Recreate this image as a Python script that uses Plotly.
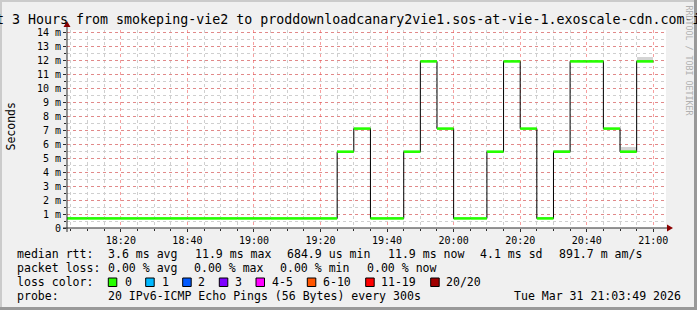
import plotly.graph_objects as go

# ---------------- data ----------------
DAY = "2026-03-31 "
slot_starts = ["18:00", "18:05", "18:10", "18:15", "18:20", "18:25", "18:30", "18:35",
               "18:40", "18:45", "18:50", "18:55", "19:00", "19:05", "19:10", "19:15",
               "19:20", "19:25", "19:30", "19:35", "19:40", "19:45", "19:50", "19:55",
               "20:00", "20:05", "20:10", "20:15", "20:20", "20:25", "20:30", "20:35",
               "20:40", "20:45", "20:50", "20:55"]
data_end = "21:00"
median_ms = [0.685, 0.685, 0.685, 0.685, 0.685, 0.685, 0.685, 0.685,
             0.685, 0.685, 0.685, 0.685, 0.685, 0.685, 0.685, 0.685,
             0.685, 5.45, 7.1, 0.685, 0.685, 5.45, 11.9, 7.1,
             0.685, 0.685, 5.45, 11.9, 7.1, 0.685, 5.45, 11.9,
             11.9, 7.1, 5.45, 11.9]
# smoke (spread of the pings) where visible
smoke_lo = [0.685, 0.685, 0.685, None, None, None, None, None,
            None, None, None, None, None, None, None, None,
            None, None, None, None, 0.685, None, None, None,
            None, None, None, None, None, 0.685, 5.45, None,
            None, None, 5.45, 11.9]
smoke_hi = [0.78, 0.78, 0.78, None, None, None, None, None,
            None, None, None, None, None, None, None, None,
            None, None, None, None, 0.78, None, None, None,
            None, None, None, None, None, 0.8, 5.6, None,
            None, None, 5.78, 12.18]

y_tick_vals = list(range(0, 15))
y_tick_text = ["0"] + [f"{v} m" for v in range(1, 15)]

title_text = ("Last 3 Hours from smokeping-vie2 to "
              "proddownloadcanary2vie1.sos-at-vie-1.exoscale-cdn.com-ipv6")
legend_rows = [
    ["median rtt:", "3.6 ms avg", "11.9 ms max", "684.9 us min", "11.9 ms now",
     "4.1 ms sd", "891.7 m am/s"],
    ["packet loss:", "0.00 % avg", "0.00 % max", "0.00 % min", "0.00 % now"],
    ["probe:", "20 IPv6-ICMP Echo Pings (56 Bytes) every 300s",
     "Tue Mar 31 21:03:49 2026"],
]
loss_labels = ["0", "1", "2", "3", "4-5", "6-10", "11-19", "20/20"]
loss_colors = ["#26ff00", "#00b8ff", "#0059ff", "#7e00ff", "#ff00ff",
               "#ff5500", "#ff0000", "#a00000"]

# ---------------- layout geometry ----------------
W, H = 697, 310
ML, MR, MT, MB = 67, 31, 30, 82
PW = W - ML - MR
PH = H - MT - MB
Y_TOP = PH / 14.0  # px per ms -> 14 px


def fx(px):
    return (px - ML) / PW


def fy(py):
    return (H - MB - py) / PH


MONO = "DejaVu Sans Mono"

x_all = [DAY + t for t in slot_starts]
fig = go.Figure()

# smoke
sx, sbase, sh = [], [], []
for t, lo, hi in zip(x_all, smoke_lo, smoke_hi):
    if lo is not None:
        sx.append(t)
        sbase.append(lo)
        sh.append(hi - lo)
fig.add_trace(go.Bar(x=sx, y=sh, base=sbase, width=300000, offset=0,
                     marker=dict(color="#d4d4d4", line=dict(width=0)),
                     hoverinfo="skip", showlegend=False))

# black step line
fig.add_trace(go.Scatter(x=x_all + [DAY + data_end], y=median_ms + [median_ms[-1]],
                         mode="lines", line=dict(color="#000000", width=1, shape="hv"),
                         hoverinfo="skip", showlegend=False))

# green median segments (loss color 0)
gx, gy = [], []
ends = x_all[1:] + [DAY + data_end]
for a, b, v in zip(x_all, ends, median_ms):
    gx += [a, b, None]
    gy += [v, v, None]
fig.add_trace(go.Scatter(x=gx, y=gy, mode="lines",
                         line=dict(color=loss_colors[0], width=2.6),
                         hoverinfo="skip", showlegend=False))

shapes = []
annotations = []

# axes lines with arrows
AX = "#2a2a2a"
AR = "#8b0000"
shapes.append(dict(type="line", xref="paper", yref="paper",
                   x0=fx(ML - 4), x1=fx(ML + PW + 2), y0=0, y1=0,
                   line=dict(color=AX, width=1)))
shapes.append(dict(type="line", xref="paper", yref="paper",
                   x0=0, x1=0, y0=fy(H - MB + 4), y1=fy(MT - 4),
                   line=dict(color=AX, width=1)))
# arrows
shapes.append(dict(type="path", xref="paper", yref="paper",
                   path=f"M {fx(ML+PW+1)},{fy(H-MB-3.5)} L {fx(ML+PW+7)},{fy(H-MB)} "
                        f"L {fx(ML+PW+1)},{fy(H-MB+3.5)} Z",
                   fillcolor=AR, line=dict(width=0)))
shapes.append(dict(type="path", xref="paper", yref="paper",
                   path=f"M {fx(ML-3.5)},{fy(MT-3)} L {fx(ML)},{fy(MT-9)} "
                        f"L {fx(ML+3.5)},{fy(MT-3)} Z",
                   fillcolor=AR, line=dict(width=0)))

# border (rrdtool shade)
shapes.append(dict(type="rect", xref="paper", yref="paper",
                   x0=fx(0), x1=fx(W), y0=fy(H - 3), y1=fy(H),
                   fillcolor="#999999", line=dict(width=0)))
shapes.append(dict(type="rect", xref="paper", yref="paper",
                   x0=fx(W - 3), x1=fx(W), y0=fy(H), y1=fy(0),
                   fillcolor="#999999", line=dict(width=0)))
shapes.append(dict(type="rect", xref="paper", yref="paper",
                   x0=fx(0), x1=fx(W - 3), y0=fy(2), y1=fy(0),
                   fillcolor="#cbcbcb", line=dict(width=0)))
shapes.append(dict(type="rect", xref="paper", yref="paper",
                   x0=fx(0), x1=fx(2), y0=fy(H - 3), y1=fy(0),
                   fillcolor="#cbcbcb", line=dict(width=0)))

# title
annotations.append(dict(xref="paper", yref="paper", x=fx(348.5), y=fy(19.5),
                        text=title_text, showarrow=False, xanchor="center",
                        yanchor="middle", borderpad=0,
                        font=dict(family=MONO, size=13.3, color="#000")))
# y axis title
annotations.append(dict(xref="paper", yref="paper", x=fx(10.5), y=fy(127),
                        text="Seconds", showarrow=False, textangle=-90,
                        xanchor="center", yanchor="middle", borderpad=0,
                        font=dict(family=MONO, size=11.5, color="#000")))
# rrdtool credit
annotations.append(dict(xref="paper", yref="paper", x=fx(688.5), y=fy(60),
                        text="RRDTOOL / TOBI OETIKER", showarrow=False, textangle=90,
                        xanchor="center", yanchor="middle", borderpad=0,
                        font=dict(family=MONO, size=8.3, color="#b0b0b0")))

LFS = 11.56
row_x = [
    [16, 107.3, 194, 286.3, 386.7, 479.3, 558.3],
    [16, 107.3, 193.3, 279.3, 366],
    [16, 107.3, 513.3],
]
row_y = [254, 268.2, 296]
for texts, xs, yv in zip(legend_rows, row_x, row_y):
    for t, xp in zip(texts, xs):
        annotations.append(dict(xref="paper", yref="paper", x=fx(xp), y=fy(yv),
                                text=t, showarrow=False, xanchor="left",
                                yanchor="middle", borderpad=0,
                                font=dict(family=MONO, size=LFS, color="#000")))
# loss color row
annotations.append(dict(xref="paper", yref="paper", x=fx(16), y=fy(282),
                        text="loss color:", showarrow=False, xanchor="left",
                        yanchor="middle", borderpad=0,
                        font=dict(family=MONO, size=LFS, color="#000")))
box_x = [108.3, 145.7, 182.7, 219.3, 256, 307.3, 365.7, 430.7]
lab_x = [124, 160.7, 197.3, 234.3, 270.7, 321.7, 380, 445]
for lab, col, bx, lx in zip(loss_labels, loss_colors, box_x, lab_x):
    shapes.append(dict(type="rect", xref="paper", yref="paper",
                       x0=fx(bx), x1=fx(bx + 8.5), y0=fy(286.5), y1=fy(278),
                       fillcolor=col, line=dict(color="#000", width=1)))
    annotations.append(dict(xref="paper", yref="paper", x=fx(lx), y=fy(282),
                            text=lab, showarrow=False, xanchor="left",
                            yanchor="middle", borderpad=0,
                            font=dict(family=MONO, size=LFS, color="#000")))

fig.update_layout(
    width=W, height=H, autosize=False,
    margin=dict(l=ML, r=MR, t=MT, b=MB, pad=0),
    paper_bgcolor="#f0f0f0", plot_bgcolor="#ffffff",
    showlegend=False, bargap=0,
    shapes=shapes, annotations=annotations,
    xaxis=dict(type="date",
               range=[DAY + "18:03:49", DAY + "21:03:49"],
               tick0=DAY + "18:00", dtick=1200000, tickformat="%H:%M",
               showgrid=True, gridcolor="rgba(240,80,80,0.55)", griddash="dot",
               gridwidth=1, zeroline=False, showline=False,
               ticks="outside", ticklen=3, tickcolor=AX,
               tickfont=dict(family=MONO, size=10, color="#000"),
               minor=dict(dtick=300000, tick0=DAY + "18:00", showgrid=True,
                          gridcolor="#cfcfcf", griddash="dot", gridwidth=1,
                          ticks="outside", ticklen=2, tickcolor=AX),
               fixedrange=True),
    yaxis=dict(range=[0, PH / 14.0],
               tickvals=y_tick_vals, ticktext=y_tick_text,
               showgrid=True, gridcolor="rgba(240,80,80,0.55)", griddash="dot",
               gridwidth=1, zeroline=False, showline=False,
               ticks="outside", ticklen=3, tickcolor=AX,
               tickfont=dict(family=MONO, size=10, color="#000"),
               minor=dict(dtick=0.5, tick0=0, showgrid=True,
                          gridcolor="#cfcfcf", griddash="dot", gridwidth=1,
                          ticks="outside", ticklen=2, tickcolor=AX),
               fixedrange=True),
)

fig.write_html("out.html")
